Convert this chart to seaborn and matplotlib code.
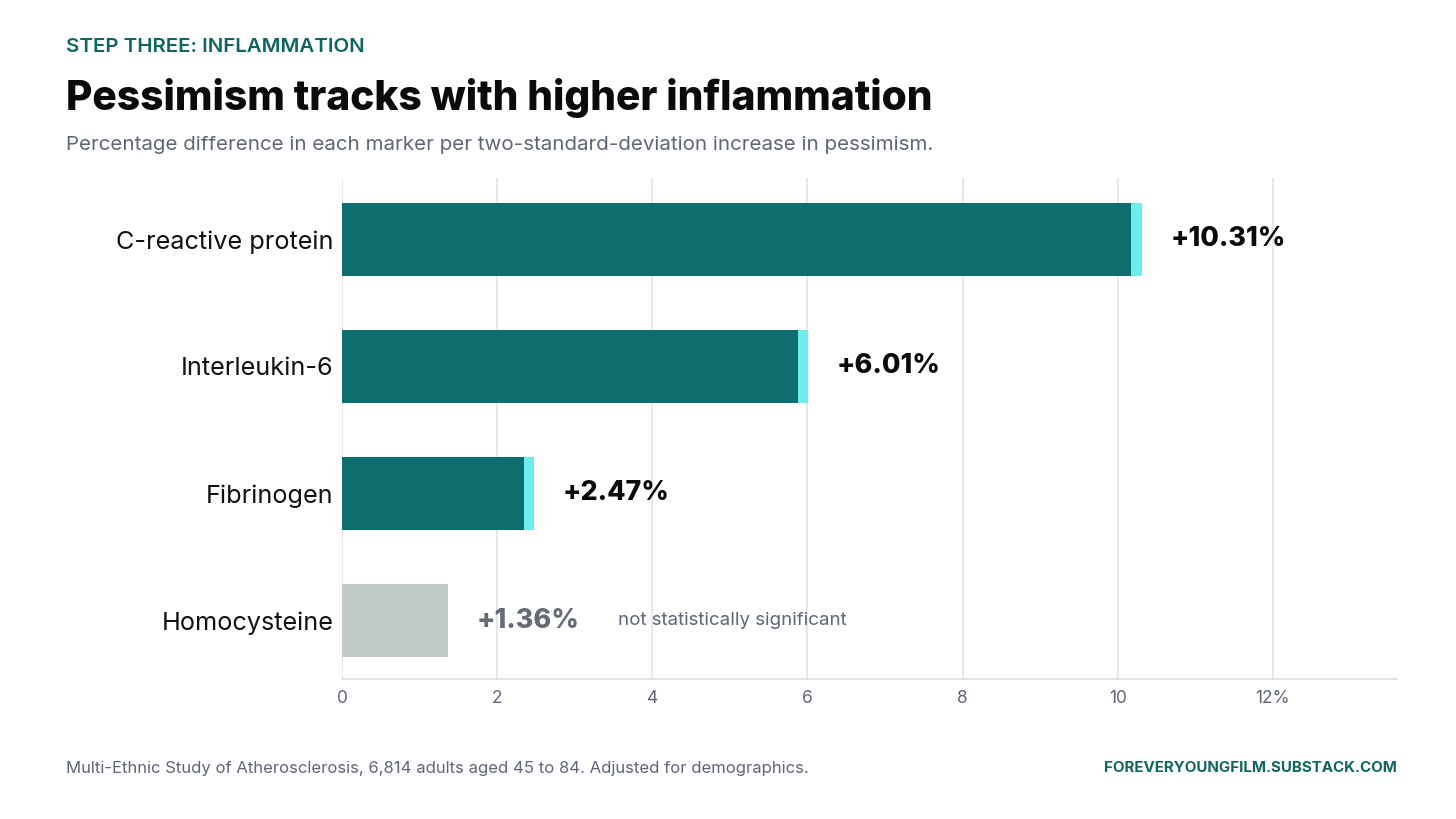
import matplotlib
matplotlib.use("Agg")
import matplotlib.pyplot as plt
import seaborn as sns
import pandas as pd

# ---- data ----
markers = ["C-reactive protein", "Interleukin-6", "Fibrinogen", "Homocysteine"]
totals = [10.31, 6.01, 2.47, 1.36]          # full bar length (% difference)
core = [10.17, 5.88, 2.34, 1.36]            # dark part of the bar
significant = [True, True, True, False]
value_labels = ["+10.31%", "+6.01%", "+2.47%", "+1.36%"]
xticks = [0, 2, 4, 6, 8, 10, 12]
xtick_labels = ["0", "2", "4", "6", "8", "10", "12%"]

DARK = "#0E6E6E"
TIP = "#6EEDEE"
GREY_BAR = "#C1C9C7"
SLATE = "#5F6676"
TEAL_TXT = "#0E6661"

sns.set_theme(style="white")
plt.rcParams["font.family"] = ["Inter", "DejaVu Sans"]

df = pd.DataFrame({"marker": markers, "total": totals, "core": core,
                   "sig": significant})

fig = plt.figure(figsize=(14.56, 8.19), dpi=100)
ax = fig.add_axes([342 / 1456, 1 - 679 / 819, (1397 - 342) / 1456, (679 - 178) / 819])

tip_pal = {m: (TIP if s else GREY_BAR) for m, s in zip(markers, significant)}
core_pal = {m: (DARK if s else GREY_BAR) for m, s in zip(markers, significant)}

sns.barplot(data=df, x="total", y="marker", hue="marker", palette=tip_pal,
            orient="h", width=0.575, ax=ax, legend=False, saturation=1,
            linewidth=0, edgecolor="none")
sns.barplot(data=df, x="core", y="marker", hue="marker", palette=core_pal,
            orient="h", width=0.575, ax=ax, legend=False, saturation=1,
            linewidth=0, edgecolor="none")

ax.set_xlim(0, 13.6)
ax.set_ylim(3.46, -0.483)
ax.set_xticks(xticks)
ax.set_xticklabels(xtick_labels, color=SLATE, fontsize=12.5)
ax.tick_params(axis="x", length=0, pad=8)
ax.tick_params(axis="y", length=0, pad=6)
ax.set_yticks(range(len(markers)))
ax.set_yticklabels(markers, fontsize=18.2, color="#111111")
ax.set_xlabel("")
ax.set_ylabel("")
ax.grid(axis="x", color="#E2E2E2", linewidth=1.1)
ax.set_axisbelow(True)
for s in ["top", "right", "left"]:
    ax.spines[s].set_visible(False)
ax.spines["bottom"].set_color("#DADADA")
ax.spines["bottom"].set_linewidth(1.1)

for i, (t, lab, s) in enumerate(zip(totals, value_labels, significant)):
    ax.text(t + 0.37, i, lab, va="center", ha="left", fontsize=19.3,
            fontweight="heavy", color=("#0A0A0A" if s else "#666B78"))
    if not s:
        ax.text(3.56, i, "not statistically significant", va="center",
                ha="left", fontsize=13.5, color=SLATE)

fig.text(66 / 1456, 1 - 47 / 819, "STEP THREE: INFLAMMATION", fontsize=14.7,
         fontweight="semibold", color=TEAL_TXT, va="center", ha="left")
fig.text(66 / 1456, 1 - 98 / 819, "Pessimism tracks with higher inflammation",
         fontsize=29.3, fontweight="heavy", color="#0A0A0A", va="center", ha="left")
fig.text(66 / 1456, 1 - 145 / 819,
         "Percentage difference in each marker per two-standard-deviation increase in pessimism.",
         fontsize=14.8, color=SLATE, va="center", ha="left")
fig.text(66 / 1456, 1 - 768 / 819,
         "Multi-Ethnic Study of Atherosclerosis, 6,814 adults aged 45 to 84. Adjusted for demographics.",
         fontsize=12, color=SLATE, va="center", ha="left")
fig.text(1397 / 1456, 1 - 768 / 819, "FOREVERYOUNGFILM.SUBSTACK.COM",
         fontsize=10.85, fontweight="bold", color=TEAL_TXT, va="center", ha="right")

fig.savefig("out.png", dpi=100, facecolor="white")
